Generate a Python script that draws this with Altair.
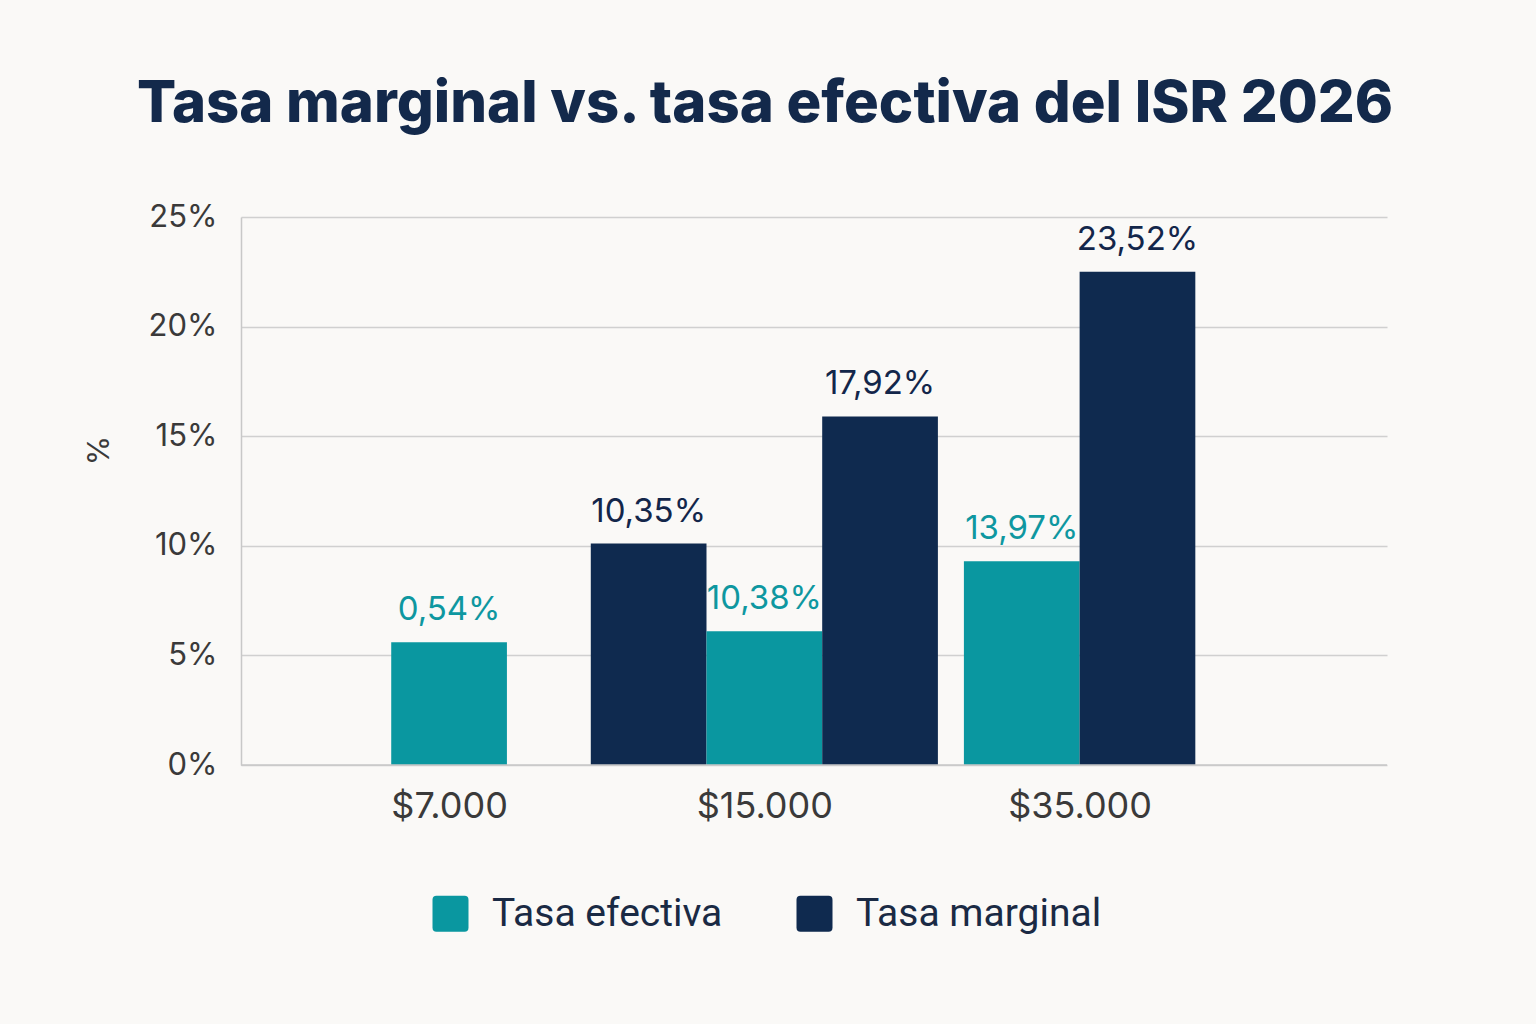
import altair as alt
import pandas as pd

categories = ["$7.000", "$15.000", "$35.000"]
series = ["Tasa efectiva", "Tasa marginal"]
colors = ["#0A97A0", "#0F2A4F"]
text_colors = ["#0E97A0", "#13264A"]

bar_group = ["$7.000", "$15.000", "$15.000", "$15.000", "$35.000", "$35.000"]
bar_series = ["Tasa efectiva", "Tasa marginal", "Tasa efectiva", "Tasa marginal",
              "Tasa efectiva", "Tasa marginal"]
bar_height = [5.6, 10.1, 6.1, 15.9, 9.3, 22.5]
bar_label = ["0,54%", "10,35%", "10,38%", "17,92%", "13,97%", "23,52%"]

BAR_W = 0.367
rows = []
for g_i, cat in enumerate(categories):
    idx = [k for k, g in enumerate(bar_group) if g == cat]
    n = len(idx)
    for j, k in enumerate(idx):
        c = g_i + (j - (n - 1) / 2) * BAR_W
        rows.append({
            "group": cat, "series": bar_series[k], "value": bar_height[k],
            "label": bar_label[k], "xc": c, "x0": c - BAR_W / 2, "x1": c + BAR_W / 2,
        })
df = pd.DataFrame(rows)

label_expr = "[" + ",".join(f"'{c}'" for c in categories) + "][round(datum.value)]"

x_scale = alt.Scale(domain=[-0.66, 2.975], nice=False, zero=False)
y_scale = alt.Scale(domain=[0, 25], nice=False)
color_scale = alt.Scale(domain=series, range=colors)

bars = alt.Chart(df).mark_bar(cornerRadius=0).encode(
    x=alt.X("x0:Q", scale=x_scale,
            axis=alt.Axis(values=[0, 1, 2], labelExpr=label_expr, title=None,
                          grid=False, ticks=False, domain=False,
                          labelFont="Inter", labelFontSize=36, labelColor="#3A3A3A",
                          labelBaseline="middle", labelPadding=41)),
    x2="x1:Q",
    y=alt.Y("value:Q", scale=y_scale,
            axis=alt.Axis(values=[0, 5, 10, 15, 20, 25], labelExpr="datum.value + '%'",
                          title="%", titleFont="Inter", titleFontSize=30,
                          titleFontWeight="normal", titleColor="#3A3A3A",
                          titleX=-127, titleY=233, titleAngle=-90,
                          grid=True, gridColor="#D0D0D0", gridWidth=1.5,
                          ticks=False, domain=True, domainColor="#C8C8C8", domainWidth=1.5,
                          labelFont="Inter", labelFontSize=31, labelColor="#3A3A3A",
                          labelPadding=24)),
    y2=alt.datum(0),
    color=alt.Color("series:N", scale=color_scale,
                    legend=alt.Legend(title=None, orient="none", direction="horizontal",
                                      legendX=190, legendY=677,
                                      symbolType="M-0.78,-1H0.78Q1,-1 1,-0.78V0.78Q1,1 0.78,1H-0.78Q-1,1 -1,0.78V-0.78Q-1,-1 -0.78,-1Z",
                                      symbolSize=1296, symbolStrokeWidth=0, symbolOpacity=1,
                                      labelFont="Roboto", labelFontSize=39, labelColor="#1A2A44",
                                      labelOffset=22, columnPadding=72, labelLimit=400)),
)

baseline = alt.Chart(pd.DataFrame({"v": [0]})).mark_rule(color="#C8C8C8", strokeWidth=1.5).encode(
    y=alt.Y("v:Q", scale=y_scale)
)

labels = alt.Chart(df).mark_text(font="Inter", fontSize=33, baseline="middle", dy=-32).encode(
    x=alt.X("xc:Q", scale=x_scale),
    y=alt.Y("value:Q", scale=y_scale),
    text="label:N",
    color=alt.Color("series:N", scale=alt.Scale(domain=series, range=text_colors), legend=None),
)

chart = alt.layer(bars, baseline, labels).resolve_scale(color="independent").properties(
    width=1146, height=548,
    title=alt.TitleParams(
        "Tasa marginal vs. tasa efectiva del ISR 2026",
        font="Inter", fontSize=58, fontWeight=800, color="#13294B",
        anchor="middle", baseline="alphabetic", offset=21, dx=-49,
    ),
    autosize=alt.AutoSizeParams(type="none"),
    padding={"left": 241, "top": 217, "right": 149, "bottom": 259},
    background="#FAF9F7",
).configure_view(stroke=None)

chart.save("out.html", embed_options={"renderer": "svg", "actions": False})
